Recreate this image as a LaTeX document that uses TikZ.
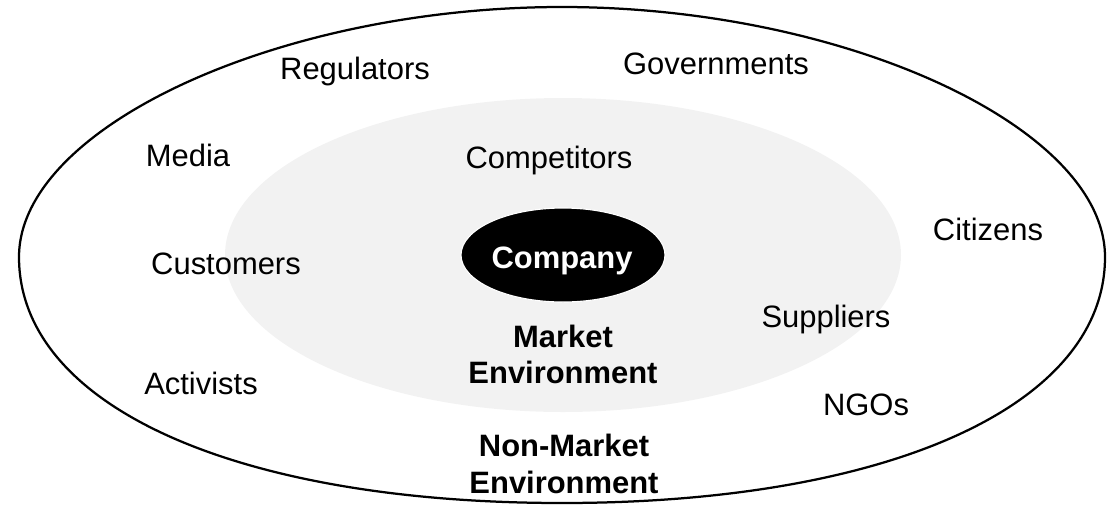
\documentclass[tikz,border=0pt]{standalone}
\usepackage{fontspec}
\setmainfont{Liberation Sans}
\definecolor{marketgray}{RGB}{242,242,242}

\begin{document}
\begin{tikzpicture}[
  x=0.025cm, y=-0.025cm,
  actor/.style={anchor=base,font=\fontsize{22}{26.2}\selectfont},
  envlabel/.style={align=center,font=\fontsize{22}{26.2}\selectfont\bfseries}
]
  \useasboundingbox (0,0) rectangle (1114,508);

  % non-market ring (a bit fuller below), market area, company core
  \draw[line width=1.6pt]
    (19,257) .. controls (19,127) and (280,7) .. (562,7)
    .. controls (844,7) and (1105,127) .. (1105,257)
    .. controls (1105,406) and (888,503) .. (562,503)
    .. controls (236,503) and (19,406) .. (19,257) -- cycle;
  \fill[marketgray] (563,255) ellipse [x radius=338, y radius=157];
  \filldraw[fill=black,draw=white,line width=0.8pt] (563,255) ellipse [x radius=102, y radius=47];

  \node[actor] (regulators) at (355,79) {Regulators};
  \node[actor] (governments) at (716,74) {Governments};
  \node[actor] (media) at (188,166) {Media};
  \node[actor] (competitors) at (549,168) {Competitors};
  \node[actor] (citizens) at (988,240) {Citizens};
  \node[actor] (customers) at (226,274) {Customers};
  \node[actor,text=white,font=\fontsize{22}{26.2}\selectfont\bfseries] (company) at (562,268) {Company};
  \node[actor] (suppliers) at (826,327) {Suppliers};
  \node[actor] (activists) at (201,394) {Activists};
  \node[actor] (ngos) at (866,415) {NGOs};

  \node[envlabel] (market) at (563,354.5) {Market\\Environment};
  \node[envlabel] (nonmarket) at (564,464) {Non-Market\\Environment};
\end{tikzpicture}
\end{document}
